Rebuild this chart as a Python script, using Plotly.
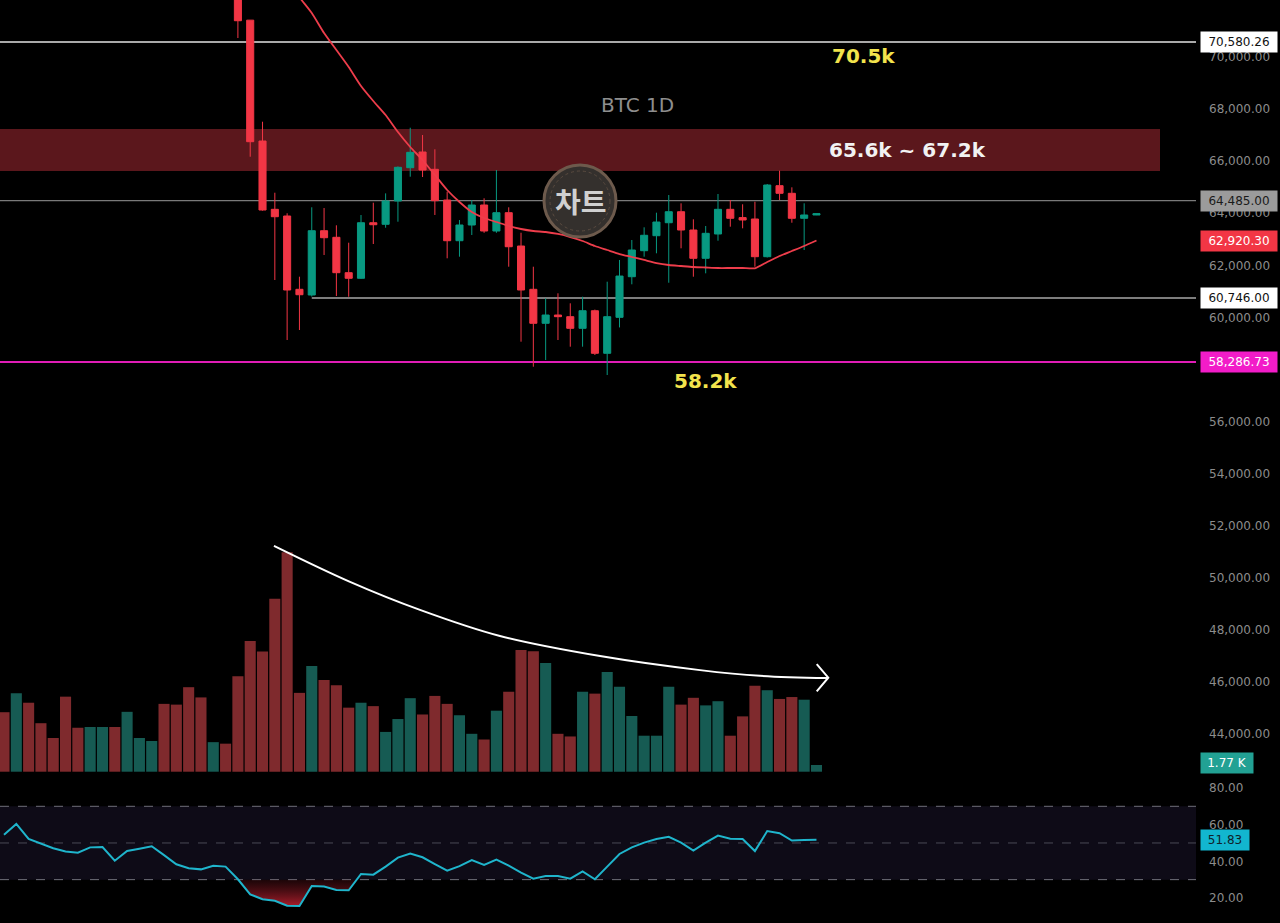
import plotly.graph_objects as go

# ---------------- data ----------------
# candle index 19..66 visible (earlier candles are above the visible price range)
candle_start = 19
opens = [72600, 71420, 66776, 64152, 63895, 61079, 60860, 63330, 63077, 61717,
         61502, 63637, 63576, 64471, 65751, 66354, 65689, 64509, 62946, 63549,
         64318, 63319, 64022, 62742, 61079, 59773, 60091, 60027, 59580, 60256,
         58620, 60002, 61563, 62562, 63138, 63637, 64060, 63357, 62270, 63204,
         64152, 63833, 63780, 62332, 65060, 64767, 63807, 63934]
highs = [72700, 71420, 67518, 64790, 64000, 61563, 64230, 64202, 63538, 62869,
         63933, 64406, 64765, 65800, 67287, 67007, 66458, 64829, 63741, 64510,
         64575, 65662, 64229, 63253, 61947, 60733, 60925, 60541, 60794, 60300,
         61371, 62205, 62973, 63461, 64022, 64702, 64382, 63768, 63511, 64740,
         64510, 64345, 64444, 65124, 65636, 64997, 64383, 63990]
lows = [70734, 66173, 64100, 61436, 59131, 59515, 60800, 62397, 60821, 60794,
        61480, 62819, 63445, 63676, 65405, 65393, 63934, 62270, 62332, 63165,
        63250, 63250, 61947, 59066, 58105, 58363, 59131, 58874, 58874, 58555,
        57786, 59614, 61271, 62332, 62462, 61332, 62654, 61563, 61693, 62946,
        63484, 63422, 61947, 62300, 64510, 63637, 62589, 63930]
closes = [71398, 66750, 64125, 63868, 61052, 60871, 63330, 63061, 61717, 61502,
          63637, 63560, 64471, 65766, 66342, 65662, 64483, 62946, 63549, 64318,
          63319, 64022, 62715, 61052, 59773, 60091, 60027, 59580, 60256, 58620,
          60027, 61588, 62589, 63154, 63664, 64060, 63357, 62270, 63230, 64152,
          63807, 63742, 62332, 65086, 64767, 63807, 63934, 63985]

# moving average, index 23..66
ma_start = 23
ma_values = [73000, 72300, 71694, 70926, 70273, 69620, 68890, 68313, 67775, 67122,
             66546, 66047, 65470, 64894, 64433, 64049, 63818, 63665, 63511, 63396,
             63319, 63280, 63204, 63088, 62935, 62743, 62589, 62435, 62320, 62205,
             62089, 62013, 61974, 61936, 61916, 61897, 61897, 61897, 61886, 62128,
             62358, 62550, 62743, 62954]

# volume (thousands), index 0..66
volume = [15.7, 20.7, 18.2, 12.8, 8.9, 19.8, 11.6, 11.8, 11.8, 11.8,
          15.8, 8.9, 8.1, 17.9, 17.7, 22.3, 19.6, 7.8, 7.4, 25.2,
          34.5, 31.7, 45.6, 57.9, 20.8, 27.9, 24.2, 22.8, 16.9, 18.2,
          17.3, 10.5, 13.9, 19.4, 15.1, 20.0, 17.9, 14.9, 10.0, 8.5,
          16.1, 21.1, 32.1, 31.8, 28.7, 10.0, 9.3, 21.1, 20.6, 26.3,
          22.4, 14.7, 9.5, 9.5, 22.4, 17.7, 19.5, 17.5, 18.6, 9.5,
          14.6, 22.7, 21.5, 19.2, 19.7, 19.0, 1.77]
vol_dir = ["d", "u", "d", "d", "d", "d", "d", "u", "u", "d",
           "u", "u", "u", "d", "d", "d", "d", "u", "d", "d",
           "d", "d", "d", "d", "d", "u", "d", "d", "d", "u",
           "d", "u", "u", "u", "d", "d", "d", "u", "u", "d",
           "u", "d", "d", "d", "u", "d", "d", "u", "d", "u",
           "u", "u", "u", "u", "u", "d", "d", "u", "u", "d",
           "d", "d", "u", "d", "d", "u", "u"]

# RSI, index 0..66
rsi = [54.5, 60.4, 52.2, 49.8, 47.1, 45.3, 44.7, 47.6, 47.8, 40.3,
       45.6, 46.9, 48.2, 43.4, 38.4, 36.2, 35.6, 37.6, 37.1, 30.2,
       22.0, 19.3, 18.5, 15.8, 15.6, 26.5, 26.2, 24.4, 24.2, 33.1,
       32.7, 37.1, 42.0, 44.2, 42.2, 38.5, 34.9, 37.4, 40.7, 38.0,
       40.9, 37.6, 33.8, 30.5, 32.0, 32.0, 30.5, 34.5, 30.2, 37.1,
       44.0, 47.6, 50.2, 52.2, 53.4, 50.2, 45.8, 50.2, 54.0, 52.3,
       52.2, 45.6, 56.5, 55.3, 51.3, 51.6, 51.8]

# horizontal levels
level_top = 70580.26
level_mid = 64485.00
level_support = 60746.00
level_low = 58286.73
ma_last = 62920.30
zone_low, zone_high = 65626, 67240

# hand-drawn volume arrow (x index, volume K)
arrow_x = [21.93, 28.11, 33.79, 40.29, 48.42, 56.54, 61.41, 66.86]
arrow_y = [59.6, 50.1, 42.7, 35.8, 30.5, 26.8, 25.3, 24.7]
arrowhead_x = [66.02, 66.96, 66.02]
arrowhead_y = [28.4, 24.8, 21.2]

# ---------------- layout constants ----------------
W, H = 1280, 923
R_MARGIN = 84
PLOT_W = W - R_MARGIN
PANE_SPLIT = 142 / H  # rsi pane height fraction
RED = "#f23645"
GREEN = "#089981"
VOL_RED = "#7f2a2d"
VOL_GREEN = "#165b53"
AXIS_FONT = dict(family="DejaVu Sans", size=12, color="#8c8c8c")

fig = go.Figure()

# volume
fig.add_trace(go.Bar(
    x=list(range(len(volume))), y=volume, yaxis="y2",
    marker=dict(color=[VOL_GREEN if d == "u" else VOL_RED for d in vol_dir], line=dict(width=0)),
    width=0.9, showlegend=False, hoverinfo="skip"))

# candles
cx = list(range(candle_start, candle_start + len(closes)))
fig.add_trace(go.Candlestick(
    x=cx, open=opens, high=highs, low=lows, close=closes,
    increasing=dict(line=dict(color=GREEN, width=1), fillcolor=GREEN),
    decreasing=dict(line=dict(color=RED, width=1), fillcolor=RED),
    whiskerwidth=0, showlegend=False, hoverinfo="skip"))

# MA
fig.add_trace(go.Scatter(
    x=list(range(ma_start, ma_start + len(ma_values))), y=ma_values,
    mode="lines", line=dict(color="#ee3d4b", width=1.8, shape="spline", smoothing=0.6),
    showlegend=False, hoverinfo="skip"))

# arrow
fig.add_trace(go.Scatter(x=arrow_x, y=arrow_y, yaxis="y2", mode="lines",
                         line=dict(color="white", width=2, shape="spline", smoothing=1.0),
                         showlegend=False, hoverinfo="skip"))
fig.add_trace(go.Scatter(x=arrowhead_x, y=arrowhead_y, yaxis="y2", mode="lines",
                         line=dict(color="white", width=2),
                         showlegend=False, hoverinfo="skip"))

# RSI oversold fill
poly_x, poly_y = [], []
for i in range(len(rsi) - 1):
    a, b = rsi[i], rsi[i + 1]
    if a < 30:
        poly_x.append(i)
        poly_y.append(a)
    if (a - 30) * (b - 30) < 0:
        t = (30 - a) / (b - a)
        poly_x.append(i + t)
        poly_y.append(30)
if poly_x:
    fig.add_trace(go.Scatter(
        x=poly_x + [poly_x[0]], y=poly_y + [poly_y[0]], yaxis="y3",
        mode="lines", line=dict(width=0), fill="toself",
        fillgradient=dict(type="vertical",
                          colorscale=[[0, "rgba(200,35,50,0.85)"], [1, "rgba(110,20,30,0.25)"]]),
        showlegend=False, hoverinfo="skip"))

# RSI line
fig.add_trace(go.Scatter(x=list(range(len(rsi))), y=rsi, yaxis="y3", mode="lines",
                         line=dict(color="#1fb5cc", width=2),
                         showlegend=False, hoverinfo="skip"))

# ---------------- shapes ----------------
shapes = []
# resistance zone
shapes.append(dict(type="rect", xref="paper", yref="y", x0=0, x1=1160 / PLOT_W,
                   y0=zone_low, y1=zone_high, fillcolor="#5b171c", line=dict(width=0), layer="below"))
# horizontal levels
shapes.append(dict(type="line", xref="paper", yref="y", x0=0, x1=1, y0=level_top, y1=level_top,
                   line=dict(color="#a9a9a9", width=2), layer="below"))
shapes.append(dict(type="line", xref="paper", yref="y", x0=0, x1=1, y0=level_mid, y1=level_mid,
                   line=dict(color="#7a7a7a", width=1.2), layer="below"))
shapes.append(dict(type="line", xref="x", yref="y", x0=25, x1=200, y0=level_support, y1=level_support,
                   line=dict(color="#7d7d7d", width=2), layer="below"))
shapes.append(dict(type="line", xref="paper", yref="y", x0=0, x1=1, y0=level_low, y1=level_low,
                   line=dict(color="#e01cb6", width=2), layer="below"))
# RSI band & levels
shapes.append(dict(type="rect", xref="paper", yref="y3", x0=0, x1=1, y0=30, y1=70,
                   fillcolor="#0e0b17", line=dict(width=0), layer="below"))
for lv, col in [(70, "#6e6e78"), (50, "#4a4a55"), (30, "#6e6e78")]:
    shapes.append(dict(type="line", xref="paper", yref="y3", x0=0, x1=1, y0=lv, y1=lv,
                       line=dict(color=col, width=1, dash="dash"), layer="below"))
# logo circle
rr = 36
shapes.append(dict(type="circle", xref="paper", yref="paper",
                   x0=(580 - rr) / PLOT_W, x1=(580 + rr) / PLOT_W,
                   y0=1 - (201 + rr) / H, y1=1 - (201 - rr) / H,
                   fillcolor="#34302d", line=dict(color="#6d5a4c", width=3), layer="above"))
shapes.append(dict(type="circle", xref="paper", yref="paper",
                   x0=(580 - rr + 6) / PLOT_W, x1=(580 + rr - 6) / PLOT_W,
                   y0=1 - (201 + rr - 6) / H, y1=1 - (201 - rr + 6) / H,
                   fillcolor="rgba(0,0,0,0)", line=dict(color="#5a4b40", width=1, dash="dot"),
                   layer="above"))

# ---------------- annotations ----------------
ann = []


def text_at(px, py, txt, color, size, bold=True, family="DejaVu Sans"):
    t = f"<b>{txt}</b>" if bold else txt
    ann.append(dict(xref="paper", yref="paper", x=px / PLOT_W, y=1 - py / H, text=t,
                    showarrow=False, xanchor="center", yanchor="middle",
                    font=dict(family=family, size=size, color=color)))


text_at(863, 56, "70.5k", "#f2e34c", 20)
text_at(637, 105, "BTC 1D", "#8e8e8e", 20, bold=False)
text_at(907, 150, "65.6k ~ 67.2k", "#f2f2f2", 20)
text_at(705, 381, "58.2k", "#f2e34c", 20)
text_at(581, 201, "차트", "#d0d0d0", 28, family="Noto Sans CJK KR")


def price_label(val, txt, bg, fg, yref="y", w=72):
    ann.append(dict(xref="paper", yref=yref, x=1, xshift=4, y=val, text=txt,
                    showarrow=False, xanchor="left", yanchor="middle",
                    bgcolor=bg, borderpad=2, width=w, height=16, align="center",
                    font=dict(family="DejaVu Sans", size=12, color=fg)))


price_label(level_top, f"{level_top:,.2f}", "#ffffff", "#111111")
price_label(level_mid, f"{level_mid:,.2f}", "#9b9b9b", "#1a1a1a")
price_label(ma_last, f"{ma_last:,.2f}", RED, "#ffffff")
price_label(level_support, f"{level_support:,.2f}", "#ffffff", "#111111")
price_label(level_low, f"{level_low:,.2f}", "#f21cc8", "#ffffff")
price_label(volume[-1] + 0.6, f"{volume[-1]:.2f} K", "#22a194", "#ffffff", yref="y2", w=48)
price_label(rsi[-1], "51.83", "#12b6cf", "#10222a", yref="y3", w=44)

# 58,000 is hidden behind the 58,286.73 label in the reference
price_ticks = [v for v in range(44000, 72001, 2000) if v != 58000]
rsi_ticks = [20, 40, 60, 80]

fig.update_layout(
    width=W, height=H,
    margin=dict(l=0, r=R_MARGIN, t=0, b=0),
    paper_bgcolor="#000000", plot_bgcolor="#000000",
    boxgap=0.18,
    xaxis=dict(range=[-0.325, 96.83], visible=False, rangeslider=dict(visible=False), fixedrange=True),
    yaxis=dict(domain=[PANE_SPLIT, 1], range=[42188, 72194], side="right", showgrid=False,
               zeroline=False, tickvals=price_ticks, ticktext=[f"{v:,.2f}" for v in price_ticks],
               tickfont=AXIS_FONT, ticks="", ticklabelstandoff=12),
    yaxis2=dict(domain=[PANE_SPLIT, 1], range=[-2.45, 203.6], overlaying="y", visible=False),
    yaxis3=dict(domain=[0, PANE_SPLIT], range=[6.35, 83.8], side="right", anchor="x", showgrid=False,
                zeroline=False, tickvals=rsi_ticks, ticktext=[f"{v:.2f}" for v in rsi_ticks],
                tickfont=AXIS_FONT, ticks="", ticklabelstandoff=12),
    shapes=shapes, annotations=ann, showlegend=False,
)

fig.write_html("out.html")
